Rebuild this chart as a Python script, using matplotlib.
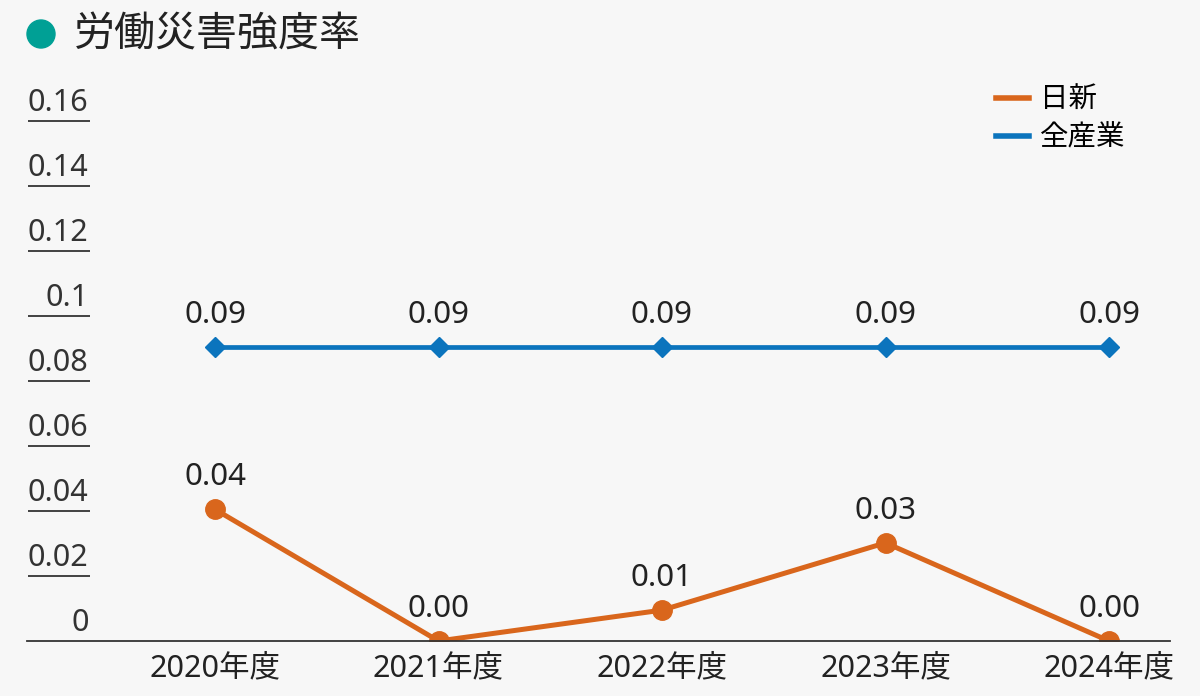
import matplotlib
matplotlib.use("Agg")
import matplotlib.pyplot as plt
from matplotlib.lines import Line2D
from matplotlib.patches import Circle
import matplotlib.transforms as mtransforms

plt.rcParams['font.family'] = ['Noto Sans', 'Noto Sans CJK JP', 'DejaVu Sans']

# ---- data ----
categories = ["2020年度", "2021年度", "2022年度", "2023年度", "2024年度"]
nisshin = [0.0405, 0.0, 0.0095, 0.0302, 0.0]
nisshin_labels = ["0.04", "0.00", "0.01", "0.03", "0.00"]
zensangyo = [0.0905, 0.0905, 0.0905, 0.0905, 0.0905]
zensangyo_labels = ["0.09", "0.09", "0.09", "0.09", "0.09"]
yticks = [0, 0.02, 0.04, 0.06, 0.08, 0.1, 0.12, 0.14, 0.16]
ytick_labels = ["0", "0.02", "0.04", "0.06", "0.08", "0.1", "0.12", "0.14", "0.16"]
title = "労働災害強度率"
series_names = ["日新", "全産業"]

ORANGE = "#d9661c"
BLUE = "#0b74bd"
TEAL = "#00a095"
BG = "#f7f7f7"
TXT = "#222222"

W, H = 1200, 696
fig = plt.figure(figsize=(W / 100, H / 100), dpi=100, facecolor=BG)

left_px, right_px = 27, 1170
bottom_px, top_px = 641, 88.5
ax = fig.add_axes([left_px / W, (H - bottom_px) / H,
                   (right_px - left_px) / W, (bottom_px - top_px) / H])
ax.set_facecolor(BG)

x = list(range(len(categories)))
spacing = 223.5
ax.set_xlim(-(215 - left_px) / spacing, 4 + (right_px - 1109) / spacing)
ax.set_ylim(0, 0.17)

for s in ["top", "right", "left"]:
    ax.spines[s].set_visible(False)
ax.spines["bottom"].set_color("#333333")
ax.spines["bottom"].set_linewidth(1.3)
ax.spines["bottom"].set_zorder(5)

ax.set_yticks([])
ax.set_xticks(x)
ax.set_xticklabels(categories, fontsize=22, color=TXT)
ax.tick_params(axis="x", length=0, pad=9)

# y labels with underlines
trans = mtransforms.blended_transform_factory(ax.transAxes, ax.transData)
xr = (90 - left_px) / (right_px - left_px)
for v, lab in zip(yticks, ytick_labels):
    if v != 0:
        ax.plot([0.001, xr], [v, v], transform=trans, color="#333333",
                lw=1.3, clip_on=False, solid_capstyle="butt")
    ax.annotate(lab, xy=(xr, v), xycoords=trans, xytext=(-1, 7),
                textcoords="offset points", ha="right", va="baseline",
                fontsize=22, color="#333333")

# series
ax.plot(x, zensangyo, color=BLUE, lw=3.4, marker="D", markersize=10,
        zorder=3, label=series_names[1])
ax.plot(x, nisshin, color=ORANGE, lw=3.6, marker="o", markersize=14,
        zorder=4, label=series_names[0])

for xi, v, lab in zip(x, zensangyo, zensangyo_labels):
    ax.annotate(lab, xy=(xi, v), xytext=(0, 23), textcoords="offset points",
                ha="center", va="center", fontsize=22.5, color=TXT)
for xi, v, lab in zip(x, nisshin, nisshin_labels):
    ax.annotate(lab, xy=(xi, v), xytext=(0, 23), textcoords="offset points",
                ha="center", va="center", fontsize=22.5, color=TXT)

handles = [Line2D([], [], color=ORANGE, lw=4),
           Line2D([], [], color=BLUE, lw=4)]
ax.legend(handles, series_names, loc="upper left",
          bbox_to_anchor=(996 / W, (H - 86) / H), bbox_transform=fig.transFigure,
          frameon=False, fontsize=20.5, handlelength=1.15, handletextpad=0.4,
          labelspacing=0.3, borderpad=0, borderaxespad=0)

# title
fig.add_artist(Circle((41 / 100, (H - 34) / 100), 14 / 100,
                      transform=fig.dpi_scale_trans, color=TEAL))
fig.text(74 / W, (H - 35) / H, title, fontsize=29.5, color=TXT,
         ha="left", va="center", family=['Noto Sans CJK JP'], weight="normal")

fig.savefig("out.png", dpi=100, facecolor=BG)
